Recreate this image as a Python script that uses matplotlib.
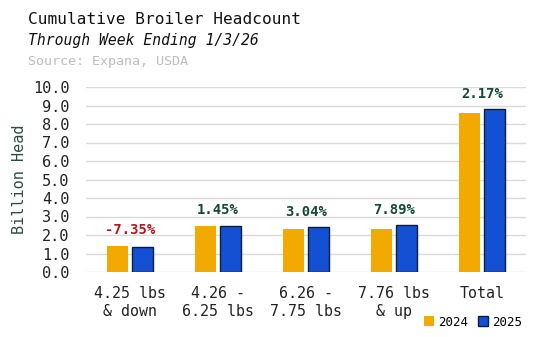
import matplotlib

matplotlib.use("Agg")
import matplotlib.pyplot as plt
import numpy as np

# data (billion head)
categories = ["4.25 lbs\n& down", "4.26 -\n6.25 lbs", "6.26 -\n7.75 lbs", "7.76 lbs\n& up", "Total"]
heads_2024 = [1.43, 2.46, 2.34, 2.35, 8.60]
heads_2025 = [1.33, 2.50, 2.41, 2.53, 8.79]
pct_change = ["-7.35%", "1.45%", "3.04%", "7.89%", "2.17%"]
yticks = np.arange(0, 10.5, 1.0)

C24 = "#F2A900"
C25 = "#1450D4"
GREEN = "#124A33"
RED = "#B3161B"

plt.rcParams["font.family"] = ["DejaVu Sans Mono"]

fig = plt.figure(figsize=(5.48, 3.37), dpi=100)
ax = fig.add_axes([86 / 548, 1 - 272 / 337, 440 / 548, 185 / 337])

x = np.arange(len(categories))
w = 0.235
off = 0.14
ax.bar(x - off, heads_2024, w, color=C24, label="2024", zorder=3)
ax.bar(x + off, heads_2025, w, color=C25, edgecolor="#0B1F3A", linewidth=1.0,
       label="2025", zorder=3)

for i, lab in enumerate(pct_change):
    top = max(heads_2024[i], heads_2025[i])
    col = RED if lab.startswith("-") else GREEN
    ax.annotate(lab, (x[i], top), xytext=(0, 6), textcoords="offset points",
                ha="center", va="bottom", fontsize=10, fontweight="bold", color=col)

ax.set_xlim(-0.5, len(categories) - 0.5)
ax.set_ylim(0, 10)
ax.set_yticks(yticks)
ax.set_yticklabels([f"{v:.1f}" for v in yticks], fontsize=11, color="#222222")
ax.set_xticks(x)
ax.set_xticklabels(categories, fontsize=10.8, color="#222222", linespacing=1.25)
ax.tick_params(length=0, axis="both")
ax.tick_params(axis="x", pad=10)
ax.tick_params(axis="y", pad=12)
ax.grid(axis="y", color="#D9D9D9", linewidth=1.0, zorder=0)
for s in ax.spines.values():
    s.set_visible(False)
ax.set_ylabel("Billion Head", fontsize=11, color="#2E4A45", labelpad=4)

fig.text(28 / 548, 1 - 20 / 337, "Cumulative Broiler Headcount", fontsize=11.6,
         color="#111111", va="center")
fig.text(28 / 548, 1 - 41 / 337, "Through Week Ending 1/3/26", fontsize=10.6,
         style="italic", color="#111111", va="center")
fig.text(28 / 548, 1 - 61 / 337, "Source: Expana, USDA", fontsize=9.6,
         color="#BDBDBD", va="center")

fig.legend(loc="center right", bbox_to_anchor=(528 / 548, 1 - 322 / 337), ncol=2,
           frameon=False, fontsize=9, handlelength=0.8, handleheight=0.8,
           handletextpad=0.3, columnspacing=0.8, borderpad=0)

fig.savefig("out.png", dpi=100)
